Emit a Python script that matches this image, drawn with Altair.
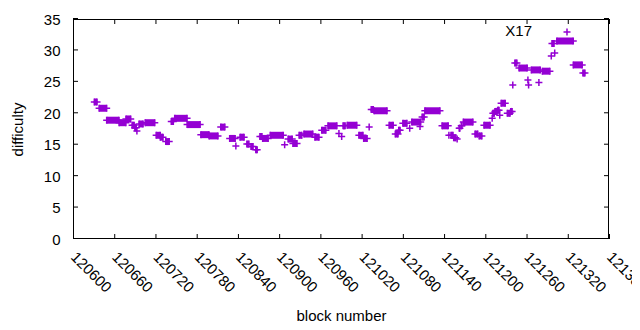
import altair as alt
import pandas as pd

# Runs of consecutive blocks with equal difficulty (start block, end block, difficulty)
run_start = [120631, 120638, 120649, 120667, 120677, 120686, 120690, 120693, 120696, 120705,
             120721, 120727, 120735, 120743, 120748, 120766, 120786, 120798, 120815, 120828,
             120837, 120843, 120853, 120859, 120866, 120872, 120876, 120887, 120908, 120913,
             120920, 120929, 120936, 120952, 120962, 120971, 120987, 120991, 120993, 120999,
             121016, 121023, 121031, 121034, 121038, 121060, 121069, 121074, 121080, 121090,
             121093, 121105, 121108, 121112, 121137, 121147, 121150, 121154, 121159, 121162,
             121165, 121168, 121185, 121191, 121198, 121210, 121211, 121214, 121218, 121221,
             121223, 121232, 121237, 121240, 121243, 121249, 121262, 121263, 121267, 121278,
             121283, 121296, 121297, 121301, 121304, 121328, 121342]
run_end = [120635, 120649, 120667, 120677, 120684, 120689, 120692, 120693, 120702, 120719,
           120727, 120731, 120740, 120746, 120766, 120785, 120798, 120811, 120821, 120836,
           120837, 120849, 120856, 120862, 120868, 120875, 120884, 120906, 120908, 120919,
           120926, 120933, 120949, 120958, 120968, 120984, 120987, 120991, 120996, 121013,
           121022, 121028, 121031, 121037, 121057, 121066, 121073, 121076, 121086, 121090,
           121106, 121105, 121111, 121134, 121146, 121147, 121153, 121157, 121159, 121163,
           121166, 121182, 121189, 121195, 121207, 121210, 121213, 121217, 121220, 121221,
           121229, 121236, 121239, 121240, 121246, 121261, 121262, 121263, 121280, 121278,
           121294, 121296, 121300, 121301, 121328, 121341, 121345]
run_diff = [21.8, 20.8, 18.9, 18.5, 19.1, 18.1, 17.7, 17.2, 18.3, 18.5,
            16.5, 16.2, 15.5, 18.7, 19.2, 18.2, 16.6, 16.4, 17.8, 16.0,
            14.8, 16.2, 15.1, 14.7, 14.2, 16.3, 16.0, 16.5, 15.0, 15.9,
            15.2, 16.5, 16.7, 16.2, 17.3, 18.0, 16.8, 16.3, 18.0, 18.1,
            16.5, 16.0, 17.8, 20.6, 20.4, 18.1, 16.7, 17.3, 18.4, 17.6,
            18.6, 17.9, 19.4, 20.4, 18.0, 16.5, 16.5, 16.1, 15.9, 17.6,
            18.0, 18.6, 16.7, 16.4, 18.1, 19.2, 20.0, 20.3, 20.5, 19.7,
            21.6, 20.0, 20.3, 24.5, 28.0, 27.2, 25.3, 24.5, 26.9, 24.9,
            26.7, 29.1, 31.1, 29.6, 31.5, 27.7, 26.4]

x_ticks = [120600, 120660, 120720, 120780, 120840, 120900, 120960, 121020,
           121080, 121140, 121200, 121260, 121320, 121380]
y_ticks = [0, 5, 10, 15, 20, 25, 30, 35]
series_name = "X17"

COLOR = "#9400D3"
FONT = "Liberation Sans"
W, H = 536, 220
PLUS = "M-1,0L1,0M0,-1L0,1"

runs = pd.DataFrame({"start": run_start, "end": run_end, "diff": run_diff})
pts = []
for s, e, d in zip(run_start, run_end, run_diff):
    pts.append({"block": s, "diff": d})
    if e != s:
        pts.append({"block": e, "diff": d})
points = pd.DataFrame(pts)

xs = alt.Scale(domain=[x_ticks[0], x_ticks[-1]], nice=False, zero=False)
ys = alt.Scale(domain=[y_ticks[0], y_ticks[-1]], nice=False, zero=True)

x_axis = alt.Axis(values=x_ticks, format="d", labelAngle=45, labelAlign="left",
                  labelBaseline="middle", labelPadding=15, ticks=False, domain=False,
                  grid=False, labelFontSize=15, labelFont=FONT, labelColor="black",
                  labelFlush=False, labelOverlap=False, labelBound=False,
                  title="block number", titleFont=FONT, titleFontSize=15,
                  titleFontWeight="normal", titleColor="black", titleX=W / 2, titleY=76,
                  titleBaseline="middle", titleAlign="center")
y_axis = alt.Axis(values=y_ticks, ticks=False, domain=False, grid=False,
                  labelPadding=13, labelFontSize=15, labelFont=FONT, labelColor="black",
                  labelOverlap=False, labelFlush=False, labelBound=False,
                  title="difficulty", titleFont=FONT, titleFontSize=15,
                  titleFontWeight="normal", titleColor="black", titleX=-56, titleY=H / 2,
                  titleAlign="center", titleBaseline="middle", titleAngle=270)

bars = alt.Chart(runs).mark_rule(color=COLOR, strokeWidth=7, strokeCap="butt").encode(
    x=alt.X("start:Q", scale=xs, axis=x_axis, title="block number"),
    x2="end:Q",
    y=alt.Y("diff:Q", scale=ys, axis=y_axis, title="difficulty"),
)

marks = alt.Chart(points).mark_point(shape=PLUS, filled=False, color=COLOR, strokeWidth=1.5,
                                     size=49, opacity=1).encode(
    x=alt.X("block:Q", scale=xs, axis=x_axis, title="block number"),
    y=alt.Y("diff:Q", scale=ys, axis=y_axis, title="difficulty"),
)

xt = pd.DataFrame({"t": x_ticks})
yt = pd.DataFrame({"t": y_ticks})
tick_len = 5
xtick_b = alt.Chart(xt).mark_rule(color="black", strokeWidth=1, xOffset=0.5).encode(
    x=alt.X("t:Q", scale=xs, axis=x_axis, title="block number"),
    y=alt.value(H), y2=alt.value(H - tick_len))
xtick_t = alt.Chart(xt).mark_rule(color="black", strokeWidth=1, xOffset=0.5).encode(
    x=alt.X("t:Q", scale=xs, axis=x_axis, title="block number"),
    y=alt.value(0), y2=alt.value(tick_len))
ytick_l = alt.Chart(yt).mark_rule(color="black", strokeWidth=1, yOffset=-0.5).encode(
    y=alt.Y("t:Q", scale=ys, axis=y_axis, title="difficulty"),
    x=alt.value(0), x2=alt.value(tick_len))
ytick_r = alt.Chart(yt).mark_rule(color="black", strokeWidth=1, yOffset=-0.5).encode(
    y=alt.Y("t:Q", scale=ys, axis=y_axis, title="difficulty"),
    x=alt.value(W), x2=alt.value(W - tick_len))

# plot frame (gnuplot-style border)
edge = dict(color="black", strokeWidth=1)
b_left = alt.Chart(xt).mark_rule(**edge).encode(
    x=alt.value(0.5), x2=alt.value(0.5), y=alt.value(0), y2=alt.value(H))
b_right = alt.Chart(xt).mark_rule(**edge).encode(
    x=alt.value(W - 0.5), x2=alt.value(W - 0.5), y=alt.value(0), y2=alt.value(H))
b_top = alt.Chart(xt).mark_rule(**edge).encode(
    x=alt.value(0), x2=alt.value(W), y=alt.value(0.5), y2=alt.value(0.5))
b_bottom = alt.Chart(xt).mark_rule(**edge).encode(
    x=alt.value(0), x2=alt.value(W), y=alt.value(H - 0.5), y2=alt.value(H - 0.5))

key_df = pd.DataFrame({"name": [series_name]})
key_text = alt.Chart(key_df).mark_text(align="right", baseline="middle", fontSize=15,
                                       font=FONT, color="black").encode(
    text="name:N", x=alt.value(459), y=alt.value(12))
key_sym = alt.Chart(key_df).mark_point(shape=PLUS, filled=False, color=COLOR, strokeWidth=1.5,
                                       size=49, opacity=1).encode(
    x=alt.value(494), y=alt.value(13))

chart = alt.layer(bars, marks, xtick_b, xtick_t, ytick_l, ytick_r,
                  b_left, b_right, b_top, b_bottom, key_text, key_sym).properties(
    width=W, height=H,
    background="white",
    autosize=alt.AutoSizeParams(type="none"),
    padding={"left": 65, "top": 11, "right": 23, "bottom": 83},
).configure_view(stroke=None)

chart.save("out.html", embed_options={"renderer": "svg", "actions": False})
